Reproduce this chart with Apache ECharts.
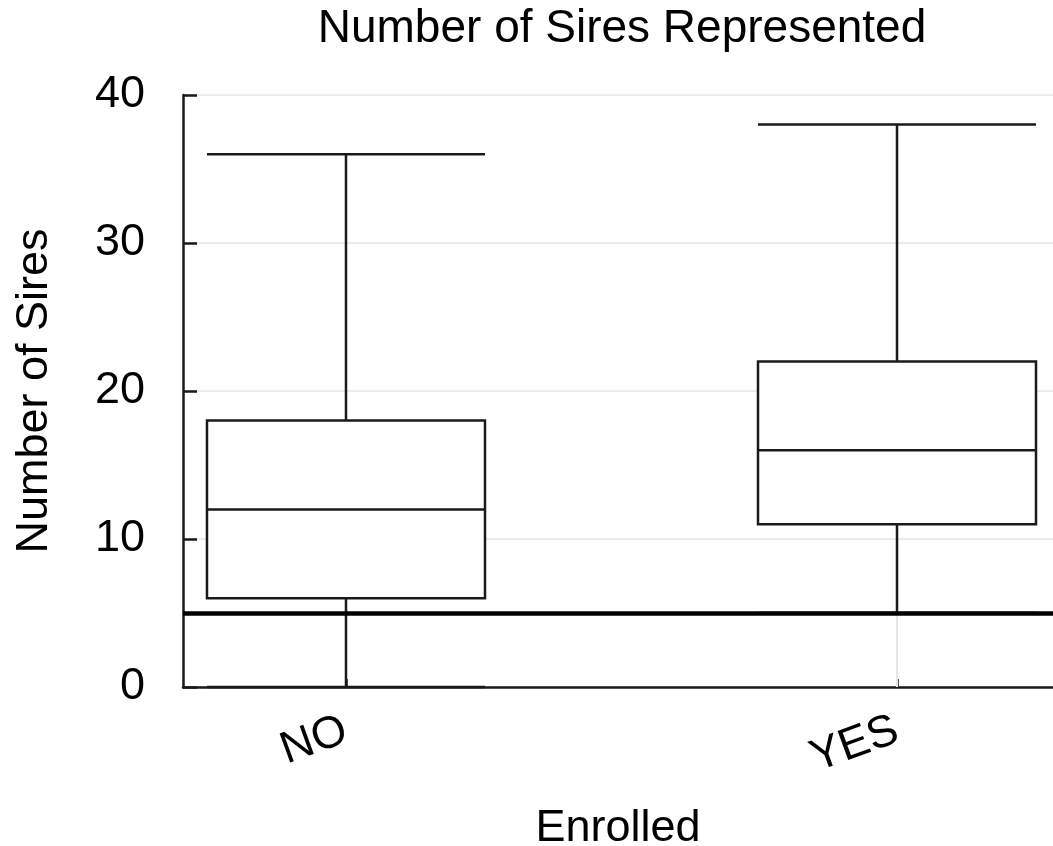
<!DOCTYPE html>
<html>
<head>
<meta charset="utf-8">
<script src="https://cdn.jsdelivr.net/npm/echarts@6/dist/echarts.min.js"></script>
<style>
  html, body { margin: 0; padding: 0; background: #fff; }
  #chart { width: 1053px; height: 846px; }
</style>
</head>
<body>
<div id="chart"></div>
<script>
// Data
const categories = ['NO', 'YES'];
const minVals    = [0, 5];
const q1Vals     = [6, 11];
const medianVals = [12, 16];
const q3Vals     = [18, 22];
const maxVals    = [36, 38];
const refLineValue = 5;
const yTicks = [0, 10, 20, 30, 40];

const FONT = "'Liberation Sans', Arial, Helvetica, sans-serif";

const boxData = categories.map((c, i) => [i, minVals[i], q1Vals[i], medianVals[i], q3Vals[i], maxVals[i]]);

const chart = echarts.init(document.getElementById('chart'), null, { renderer: 'canvas' });

chart.setOption({
  backgroundColor: '#ffffff',
  animation: false,
  title: {
    text: 'Number of Sires Represented',
    left: 622,
    textAlign: 'center',
    top: 6,
    padding: 0,
    textStyle: { fontFamily: FONT, fontSize: 46, fontWeight: 'normal', color: '#000' }
  },
  grid: { left: 183, right: 0, top: 95, bottom: 159, containLabel: false, outerBoundsMode: 'none' },
  xAxis: {
    type: 'value',
    min: -0.2958,
    max: 1.2831,
    name: 'Enrolled',
    nameLocation: 'middle',
    nameGap: 119,
    nameTextStyle: { fontFamily: FONT, fontSize: 45, color: '#000' },
    axisLine: { show: true, onZero: false, lineStyle: { color: '#1a1a1a', width: 2.5 } },
    axisTick: { show: true, inside: true, length: 8, customValues: [0, 1], lineStyle: { color: '#1a1a1a', width: 2.5 } },
    axisLabel: {
      customValues: [0, 1],
      rotate: 20,
      margin: 42,
      fontFamily: FONT, fontSize: 45, color: '#000',
      formatter: v => categories[Math.round(v)] || ''
    },
    splitLine: { show: false }
  },
  yAxis: {
    type: 'value',
    min: yTicks[0],
    max: yTicks[yTicks.length - 1],
    interval: 10,
    name: 'Number of Sires',
    nameLocation: 'middle',
    nameGap: 126,
    nameTextStyle: { fontFamily: FONT, fontSize: 45, color: '#000' },
    axisLine: { show: true, onZero: false, lineStyle: { color: '#1a1a1a', width: 2.5 } },
    axisTick: { show: true, inside: true, length: 14, lineStyle: { color: '#1a1a1a', width: 2.5 } },
    axisLabel: { margin: 38, fontFamily: FONT, fontSize: 45, color: '#000' },
    splitLine: { show: true, lineStyle: { color: '#ebebeb', width: 2 } }
  },
  series: [
    {
      type: 'line',
      data: [],
      z: 1,
      silent: true,
      markLine: {
        z: 1,
        silent: true,
        symbol: 'none',
        label: { show: false },
        lineStyle: { color: '#e6e6e6', width: 2, type: 'solid' },
        data: categories.map((c, i) => [{ coord: [i, 0] }, { coord: [i, maxVals[i]] }])
      }
    },
    {
      type: 'boxplot',
      z: 2,
      data: boxData,
      boxWidth: [278, 278],
      itemStyle: { color: '#ffffff', borderColor: '#1a1a1a', borderWidth: 2.5 },
      emphasis: { disabled: true },
      markLine: {
        z: 3,
        silent: true,
        symbol: 'none',
        label: { show: false },
        lineStyle: { color: '#000', width: 4.5, type: 'solid' },
        data: [{ yAxis: refLineValue }]
      }
    }
  ]
});
</script>
</body>
</html>
